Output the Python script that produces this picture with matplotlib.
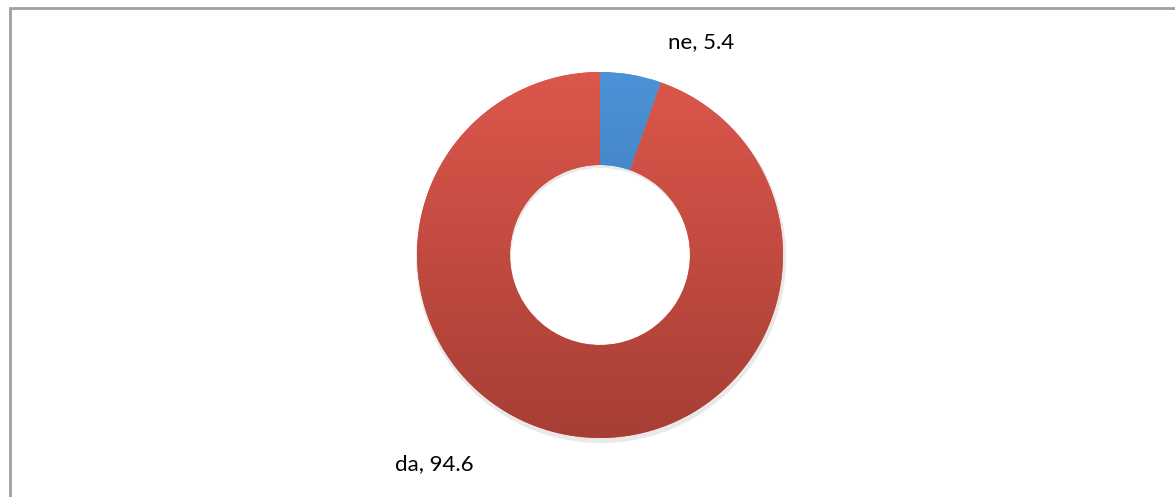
import matplotlib
matplotlib.use('Agg')
import matplotlib.pyplot as plt
import numpy as np
from matplotlib.colors import LinearSegmentedColormap
from matplotlib.patches import Rectangle

# data
labels = ['ne', 'da']
values = [5.4, 94.6]
top_colors = ['#4b92d6', '#dc574c']
bottom_colors = ['#3870ad', '#a73e34']

W, H = 1175, 497
fig = plt.figure(figsize=(W / 100, H / 100), dpi=100)
ax = fig.add_axes([0, 0, 1, 1])

cx, cy = 600, H - 255
r_out, r_in = 183, 90

# shadow (soft, offset down)
shadow, _ = ax.pie([1], radius=r_out + 2, center=(cx + 1, cy - 3), colors=['#d4d4d4'],
                   wedgeprops=dict(width=r_out - r_in + 2, linewidth=0))
for w in shadow:
  w.set_alpha(0.5)

wedges, _ = ax.pie(values, radius=r_out, center=(cx, cy), startangle=90, counterclock=False,
                   colors=top_colors, wedgeprops=dict(width=r_out - r_in, linewidth=0))

# vertical gradient on each wedge
grad = np.linspace(0, 1, 256).reshape(-1, 1)
for w, c0, c1 in zip(wedges, top_colors, bottom_colors):
  cmap = LinearSegmentedColormap.from_list('g', [c1, c0])
  im = ax.imshow(grad, cmap=cmap, origin='lower', aspect='auto',
                 extent=(cx - r_out, cx + r_out, cy - r_out, cy + r_out), zorder=3)
  im.set_clip_path(w)

ax.set_xlim(0, W)
ax.set_ylim(0, H)
ax.set_aspect('auto')
ax.axis('off')

for lab, val, (x, y) in zip(labels, values, [(701, 42), (434, 464)]):
  ax.text(x, H - y, '%s, %.1f' % (lab, val), ha='center', va='center',
          fontsize=16, family='Lato', color='#000000')

# chart border
fig.add_artist(Rectangle((9.5 / W, -0.1), 1.2, 1.1 - 8 / H, transform=fig.transFigure,
                         fill=False, edgecolor='#a0a0a0', linewidth=2))

fig.savefig('out.png', dpi=100)
